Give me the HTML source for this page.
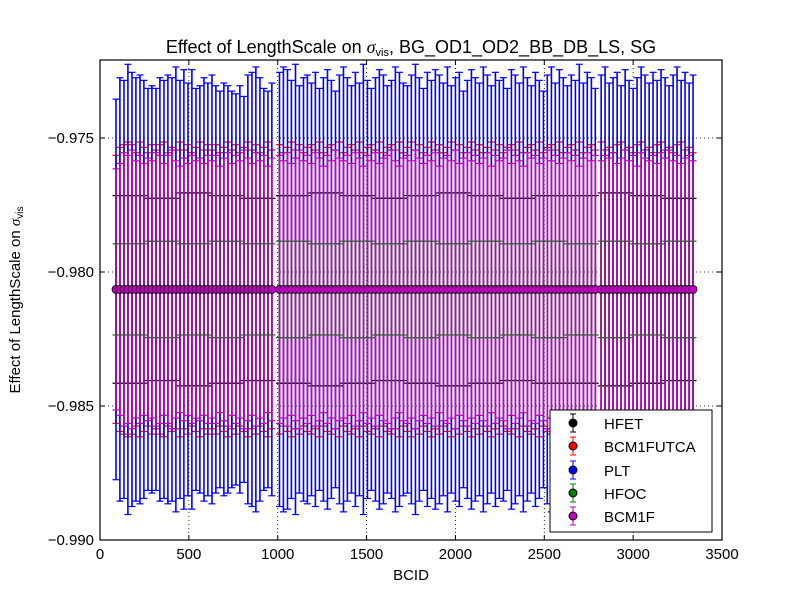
<!DOCTYPE html>
<html><head><meta charset="utf-8"><style>
body{margin:0;background:#fff;}
svg{display:block;font-family:"Liberation Sans","DejaVu Sans",sans-serif;}
</style></head><body>
<svg id="chart" width="800" height="600"></svg>
<script>
const trainStarts = [90, 270, 450, 630, 810, 1010, 1190, 1370, 1550, 1730, 1910, 2090, 2270, 2450, 2630, 2820, 3000, 3180];
const bunchOffsets = [0, 22, 45, 67, 90, 112, 135, 157];
const centralValue = -0.98065;
const seriesNames = ["HFET", "BCM1FUTCA", "PLT", "HFOC", "BCM1F"];
const seriesColors = ["#000000", "#ff0000", "#0000ff", "#007f00", "#bf00bf"];
const errHFET = [0.0035, 0.0034, 0.0036, 0.0035, 0.0034, 0.0035, 0.0036, 0.0035, 0.0034, 0.0035, 0.0036, 0.0035, 0.0034, 0.0035, 0.0035, 0.0036, 0.0035, 0.0034];
const errHFOC = [0.0017, 0.0018, 0.0017, 0.0018, 0.0017, 0.0018, 0.0017, 0.0018, 0.0017, 0.0018, 0.0017, 0.0018, 0.0017, 0.0018, 0.0017, 0.0018, 0.0017, 0.0018];
const errPLT = [
.0071,.0079,.0078,.0084,.0081,.0079,.0080,.0078, .0075,.0076,.0075,.0079,.0078,.0080,.0079,.0083, .0078,.0082,.0077,.0082,.0075,.0076,.0079,.0077,
.0080,.0076,.0074,.0077,.0076,.0074,.0073,.0076, .0072,.0080,.0081,.0083,.0079,.0075,.0074,.0077, .0081,.0083,.0082,.0078,.0084,.0076,.0079,.0080,
.0077,.0081,.0075,.0079,.0082,.0078,.0074,.0080, .0083,.0079,.0076,.0081,.0077,.0084,.0078,.0075, .0079,.0082,.0080,.0076,.0078,.0083,.0081,.0077,
.0076,.0080,.0084,.0079,.0075,.0081,.0078,.0082, .0080,.0077,.0083,.0076,.0079,.0081,.0074,.0078, .0082,.0079,.0077,.0083,.0080,.0076,.0081,.0078,
.0079,.0075,.0082,.0080,.0077,.0083,.0079,.0076, .0081,.0078,.0074,.0080,.0083,.0077,.0082,.0079, .0076,.0080,.0078,.0084,.0077,.0081,.0079,.0075,
.0080,.0083,.0077,.0079,.0081,.0076,.0082,.0078, .0075,.0079,.0083,.0080,.0077,.0081,.0078,.0082, .0079,.0076,.0080,.0083,.0078,.0081,.0077,.0080];
const errBCM1F = [
.0045,.0047,.0051,.0050,.0052,.0048,.0050,.0047, .0049,.0048,.0051,.0050,.0047,.0050,.0052,.0048, .0046,.0049,.0047,.0050,.0048,.0049,.0047,.0050,
.0048,.0050,.0046,.0049,.0051,.0047,.0050,.0048, .0052,.0049,.0047,.0051,.0048,.0050,.0046,.0049, .0050,.0048,.0051,.0047,.0049,.0052,.0048,.0050,
.0047,.0051,.0049,.0046,.0050,.0048,.0052,.0049, .0048,.0050,.0047,.0051,.0049,.0046,.0050,.0048, .0051,.0047,.0049,.0050,.0052,.0048,.0046,.0049,
.0050,.0048,.0052,.0049,.0047,.0050,.0048,.0051, .0046,.0049,.0050,.0048,.0052,.0047,.0049,.0051, .0048,.0050,.0047,.0049,.0051,.0046,.0050,.0048,
.0049,.0052,.0047,.0050,.0048,.0046,.0051,.0049, .0050,.0047,.0049,.0052,.0048,.0050,.0047,.0049, .0051,.0048,.0050,.0046,.0049,.0051,.0048,.0050,
.0048,.0050,.0049,.0051,.0047,.0049,.0052,.0048, .0050,.0046,.0051,.0049,.0048,.0050,.0047,.0051, .0049,.0052,.0048,.0050,.0047,.0049,.0050,.0048];
const errBCM1FUTCA = [
.0050,.0053,.0054,.0055,.0054,.0051,.0055,.0053, .0051,.0054,.0052,.0054,.0055,.0051,.0053,.0052, .0055,.0052,.0054,.0051,.0053,.0055,.0052,.0054,
.0052,.0054,.0051,.0053,.0055,.0052,.0054,.0051, .0053,.0055,.0052,.0054,.0051,.0053,.0055,.0052, .0054,.0051,.0053,.0055,.0052,.0054,.0051,.0053,
.0054,.0052,.0055,.0051,.0053,.0054,.0052,.0055, .0051,.0053,.0054,.0052,.0055,.0051,.0053,.0054, .0052,.0055,.0051,.0053,.0054,.0052,.0055,.0051,
.0053,.0055,.0052,.0054,.0051,.0053,.0055,.0052, .0054,.0051,.0053,.0055,.0052,.0054,.0051,.0053, .0055,.0052,.0054,.0051,.0053,.0055,.0052,.0054,
.0051,.0053,.0054,.0052,.0055,.0051,.0053,.0054, .0052,.0055,.0051,.0053,.0054,.0052,.0055,.0051, .0053,.0054,.0052,.0055,.0051,.0053,.0054,.0052,
.0055,.0052,.0053,.0051,.0054,.0055,.0052,.0053, .0051,.0054,.0055,.0052,.0053,.0051,.0054,.0055, .0052,.0053,.0051,.0054,.0055,.0052,.0053,.0051];
const xTicks = [0, 500, 1000, 1500, 2000, 2500, 3000, 3500];
const yTicks = [-0.990, -0.985, -0.980, -0.975];
const yTickLabels = ["\u22120.990", "\u22120.985", "\u22120.980", "\u22120.975"];

const L=100,R=722,T=60,B=540,XMIN=0,XMAX=3500,YMIN=-0.990,YMAX=-0.97209;
const sx=v=>L+(v-XMIN)/(XMAX-XMIN)*(R-L);
const sy=v=>B-(v-YMIN)/(YMAX-YMIN)*(B-T);
const NS="http://www.w3.org/2000/svg";
const svg=document.getElementById('chart');
function mk(tag,attrs,parent){const e=document.createElementNS(NS,tag);for(const k in attrs)e.setAttribute(k,attrs[k]);(parent||svg).appendChild(e);return e;}

const grid=mk('g',{});


xTicks.forEach(t=>{if(t>XMIN&&t<XMAX)mk('line',{x1:sx(t),x2:sx(t),y1:T,y2:B,stroke:'#000','stroke-dasharray':'1,3','stroke-width':0.8},grid);});
yTicks.forEach(t=>{if(t>YMIN)mk('line',{x1:L,x2:R,y1:sy(t),y2:sy(t),stroke:'#000','stroke-dasharray':'1,3','stroke-width':0.8},grid);});

const pts=[];
trainStarts.forEach((s,ti)=>bunchOffsets.forEach(o=>pts.push({b:s+o,ti:ti,i:pts.length})));
const errFor=[
  p=>errHFET[p.ti], p=>errBCM1FUTCA[p.i], p=>errPLT[p.i], p=>errHFOC[p.ti], p=>errBCM1F[p.i]
];
errFor.forEach((f,si)=>{
  const g=mk('g',{stroke:seriesColors[si],'stroke-width':1.6});
  
  
  pts.forEach(p=>{
    const x=sx(p.b),e=f(p),y1=sy(centralValue+e),y2=sy(centralValue-e);
    mk('line',{x1:x,x2:x,y1:y1,y2:y2},g);
    mk('line',{x1:x-3.5,x2:x+3.5,y1:y1,y2:y1,'stroke-width':1.2},g);
    mk('line',{x1:x-3.5,x2:x+3.5,y1:y2,y2:y2,'stroke-width':1.2},g);
  });
});
const mg=mk('g',{});


pts.forEach(p=>{mk('circle',{cx:sx(p.b),cy:sy(centralValue),r:4,fill:'#bf00bf',stroke:'#000','stroke-width':0.8},mg);});

const ax=mk('rect',{x:L,y:T,width:R-L,height:B-T,fill:'none',stroke:'#000','stroke-width':1.2});


xTicks.forEach(t=>{
  mk('line',{x1:sx(t),x2:sx(t),y1:B,y2:B-5,stroke:'#000'});
  mk('line',{x1:sx(t),x2:sx(t),y1:T,y2:T+5,stroke:'#000'});
  const tx=mk('text',{x:sx(t),y:B+19,'font-size':15,'text-anchor':'middle'});tx.textContent=t;
  
  
});
yTicks.forEach((t,i)=>{
  mk('line',{x1:L,x2:L+5,y1:sy(t),y2:sy(t),stroke:'#000'});
  mk('line',{x1:R,x2:R-5,y1:sy(t),y2:sy(t),stroke:'#000'});
  const tx=mk('text',{x:L-6,y:sy(t)+5,'font-size':15,'text-anchor':'end'});tx.textContent=yTickLabels[i];
  
  
});
</script>
<svg style="position:absolute;left:0;top:0" width="800" height="600">
<text x="411" y="53" font-size="18" text-anchor="middle">Effect of LengthScale on <tspan font-family="Liberation Serif" font-style="italic">σ</tspan><tspan font-size="11" dy="3">vis</tspan><tspan dy="-3">, BG_OD1_OD2_BB_DB_LS, SG</tspan></text>
<text x="411" y="580" font-size="15" text-anchor="middle">BCID</text>
<text transform="translate(20,300) rotate(-90)" font-size="15" text-anchor="middle">Effect of LengthScale on <tspan font-family="Liberation Serif" font-style="italic">σ</tspan><tspan font-size="10" dy="3">vis</tspan></text>
<g>
<rect x="550" y="410" width="162" height="122" fill="#fff" stroke="#000" stroke-width="1"/>
<g stroke="#000"><line x1="573" x2="573" y1="414" y2="432"/><line x1="570" x2="576" y1="414" y2="414"/><line x1="570" x2="576" y1="432" y2="432"/><circle cx="573" cy="423" r="4" fill="#000"/><text x="604" y="429" font-size="15" stroke="none">HFET</text></g>
<g stroke="#f00"><line x1="573" x2="573" y1="437" y2="455"/><line x1="570" x2="576" y1="437" y2="437"/><line x1="570" x2="576" y1="455" y2="455"/><circle cx="573" cy="446" r="4" fill="#f00" stroke="#000"/><text x="604" y="452" font-size="15" stroke="none">BCM1FUTCA</text></g>
<g stroke="#00f"><line x1="573" x2="573" y1="461" y2="479"/><line x1="570" x2="576" y1="461" y2="461"/><line x1="570" x2="576" y1="479" y2="479"/><circle cx="573" cy="470" r="4" fill="#00f" stroke="#000"/><text x="604" y="476" font-size="15" stroke="none">PLT</text></g>
<g stroke="#007f00"><line x1="573" x2="573" y1="484" y2="502"/><line x1="570" x2="576" y1="484" y2="484"/><line x1="570" x2="576" y1="502" y2="502"/><circle cx="573" cy="493" r="4" fill="#007f00" stroke="#000"/><text x="604" y="499" font-size="15" stroke="none">HFOC</text></g>
<g stroke="#bf00bf"><line x1="573" x2="573" y1="507" y2="525"/><line x1="570" x2="576" y1="507" y2="507"/><line x1="570" x2="576" y1="525" y2="525"/><circle cx="573" cy="516" r="4" fill="#bf00bf" stroke="#000"/><text x="604" y="522" font-size="15" stroke="none">BCM1F</text></g>
</g>
</svg>
</body></html>
